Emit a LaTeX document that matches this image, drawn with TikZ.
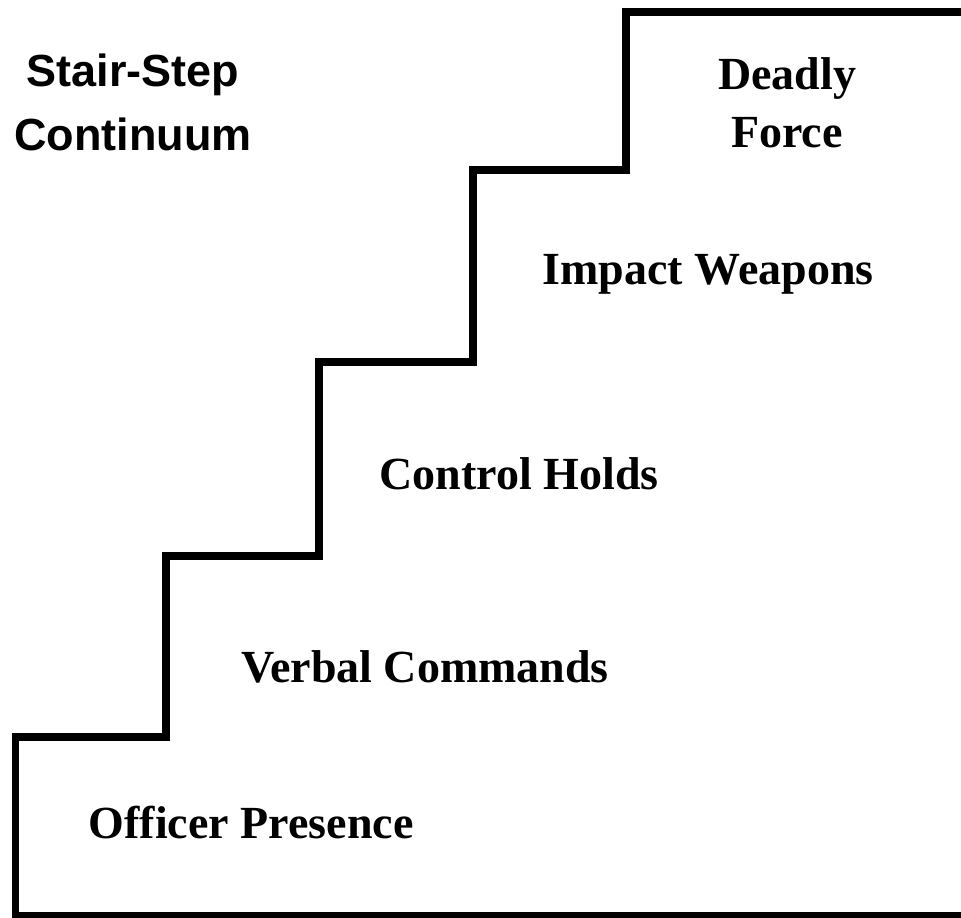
\documentclass[tikz,border=0pt]{standalone}
\usepackage{fontspec}
\setmainfont{Liberation Serif}
\newfontfamily\titlefont{Liberation Sans}
\begin{document}
\begin{tikzpicture}[x=1pt,y=-1pt,
  stair/.style={line width=7.5pt, line join=miter},
  lvl/.style={font=\fontsize{46}{54}\selectfont\bfseries, anchor=base, inner sep=0pt},
  ttl/.style={font=\titlefont\fontsize{45}{64}\selectfont\bfseries, align=center, anchor=base, inner sep=0pt}]
\useasboundingbox (0,0) rectangle (961,918);
\clip (0,0) rectangle (961,918);
\coordinate (b0) at (975,915.5);
\coordinate (b1) at (15.5,915.5);
\coordinate (s1) at (15.5,737);
\coordinate (s2) at (166,737);
\coordinate (s3) at (166,556);
\coordinate (s4) at (319,556);
\coordinate (s5) at (319,362);
\coordinate (s6) at (473,362);
\coordinate (s7) at (473,170);
\coordinate (s8) at (626,170);
\coordinate (s9) at (626,12);
\coordinate (s10) at (975,12);
\draw[stair] (b0) -- (b1) -- (s1) -- (s2) -- (s3) -- (s4) -- (s5) -- (s6) -- (s7) -- (s8) -- (s9) -- (s10);
\node[ttl] (title) at (133,150) {Stair-Step\\Continuum};
\node[lvl] (deadly) at (787,89) {Deadly};
\node[lvl] (force) at (787,147) {Force};
\node[lvl] (impact) at (708,284) {Impact Weapons};
\node[lvl] (control) at (519,489) {Control Holds};
\node[lvl] (verbal) at (425,682) {Verbal Commands};
\node[lvl] (officer) at (251,838) {Officer Presence};
\end{tikzpicture}
\end{document}
